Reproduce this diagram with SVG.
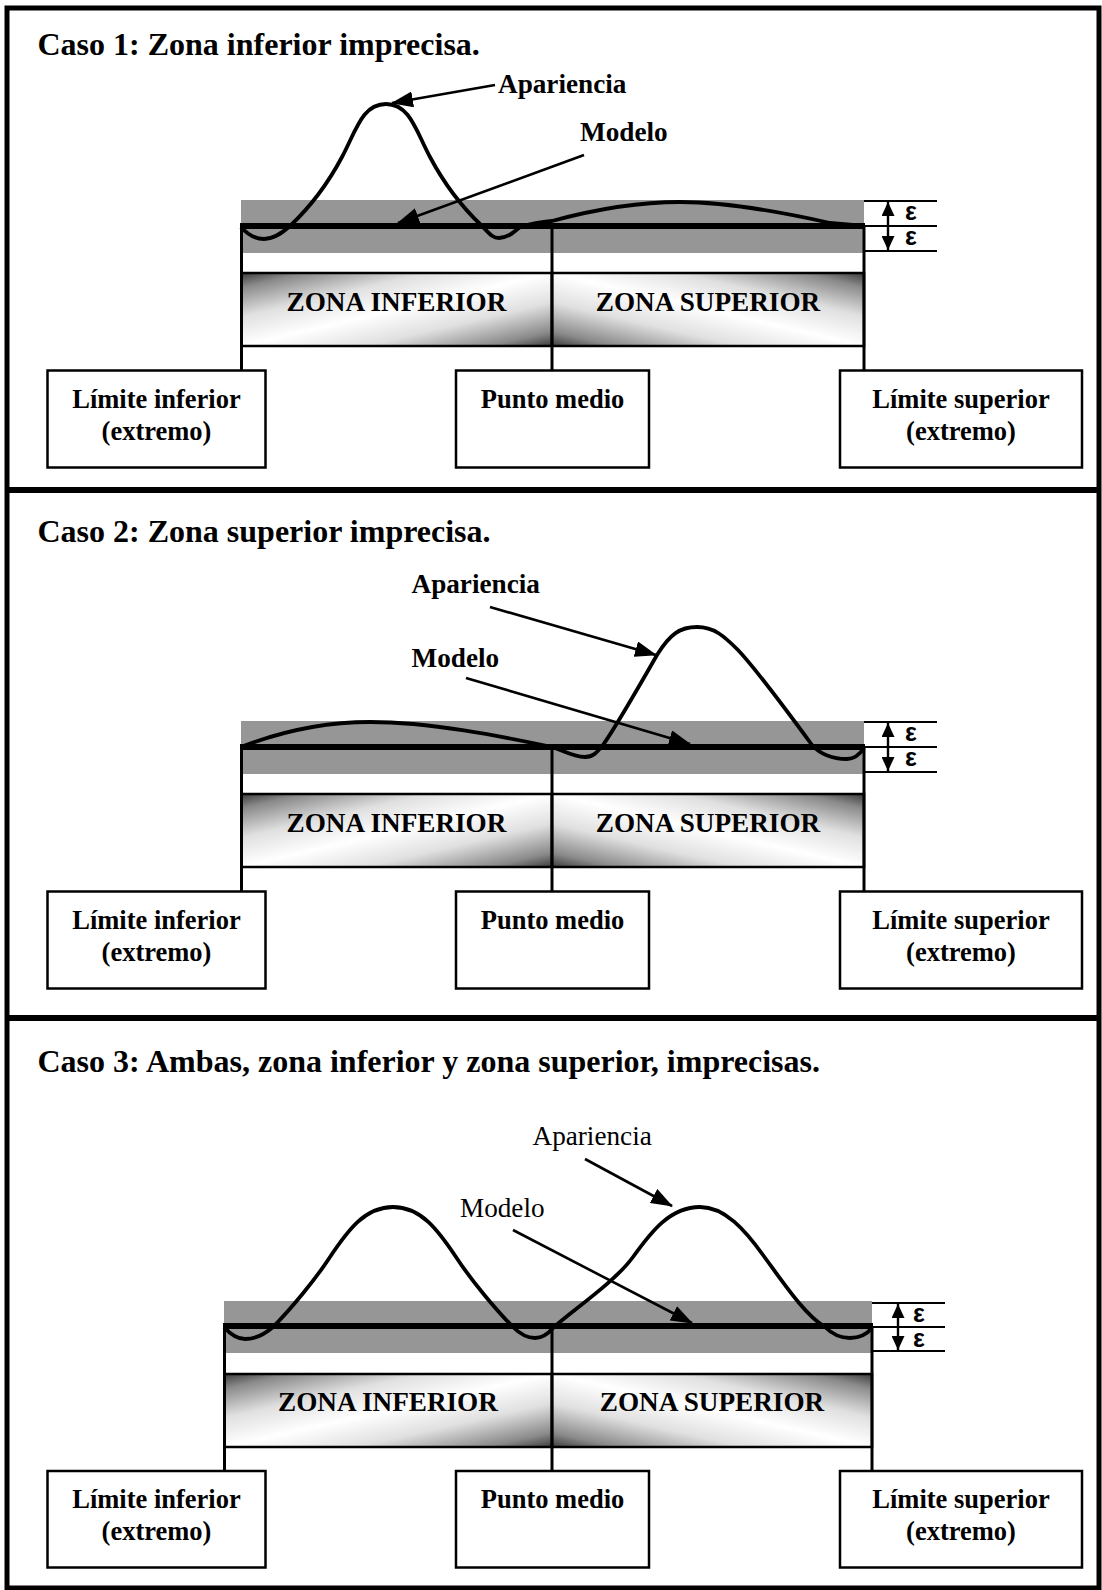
<svg xmlns="http://www.w3.org/2000/svg" width="1102" height="1590" viewBox="0 0 1102 1590">
  <defs>
    <style>
      .t { font-family: "Liberation Serif", "Times New Roman", serif; font-weight: bold; fill: #000; }
      .r { font-family: "Liberation Serif", "Times New Roman", serif; font-weight: normal; fill: #000; }
      .title { font-size: 32px; }
      .lbl { font-size: 26.5px; }
      .big { font-size: 27.2px; }
      .mid { text-anchor: middle; }
      .eps { font-family: "Liberation Sans", Arial, sans-serif; font-weight: bold; font-size: 25px; }
      .frame { fill: none; stroke: #000; stroke-width: 5; }
      .sep { stroke: #000; stroke-width: 6; }
      .band { fill: #969696; }
      .zone { stroke: #000; stroke-width: 2.5; }
      .box { fill: #fff; stroke: #000; stroke-width: 2.5; }
      .axis { stroke: #000; stroke-width: 6; }
      .edge { stroke: #000; stroke-width: 3; fill: none; }
      .curve { fill: none; stroke: #000; stroke-width: 3.8; stroke-linejoin: round; }
      .ptr { stroke: #000; stroke-width: 2.6; fill: none; marker-end: url(#head); }
      .tick { stroke: #000; stroke-width: 2; }
      .dim { stroke: #000; stroke-width: 2.4; marker-start: url(#small); marker-end: url(#small); }
    </style>
    <marker id="head" markerUnits="userSpaceOnUse" markerWidth="22" markerHeight="16" refX="21" refY="8" orient="auto">
      <path d="M0,0 L22,8 L0,16 Z" fill="#000"/>
    </marker>
    <marker id="small" markerUnits="userSpaceOnUse" markerWidth="14" markerHeight="13" refX="14" refY="6.5" orient="auto-start-reverse">
      <path d="M0,0 L14,6.5 L0,13 Z" fill="#000"/>
    </marker>
    <linearGradient id="shadeL" x1="0" y1="0" x2="1" y2="1">
      <stop offset="0" stop-color="#3c3c3c"/>
      <stop offset="0.1" stop-color="#8a8a8a"/>
      <stop offset="0.3" stop-color="#e0e0e0"/>
      <stop offset="0.5" stop-color="#ffffff"/>
      <stop offset="0.7" stop-color="#e0e0e0"/>
      <stop offset="0.9" stop-color="#8a8a8a"/>
      <stop offset="1" stop-color="#3c3c3c"/>
    </linearGradient>
    <linearGradient id="shadeR" x1="0" y1="1" x2="1" y2="0">
      <stop offset="0" stop-color="#3c3c3c"/>
      <stop offset="0.1" stop-color="#8a8a8a"/>
      <stop offset="0.3" stop-color="#e0e0e0"/>
      <stop offset="0.5" stop-color="#ffffff"/>
      <stop offset="0.7" stop-color="#e0e0e0"/>
      <stop offset="0.9" stop-color="#8a8a8a"/>
      <stop offset="1" stop-color="#3c3c3c"/>
    </linearGradient>
  </defs>

  <rect width="1102" height="1590" fill="#fff"/>

  <!-- outer frame and panel separators -->
  <g id="frame">
    <rect class="frame" x="7" y="8" width="1092" height="1580"/>
    <line class="sep" x1="7" y1="490" x2="1099" y2="490"/>
    <line class="sep" x1="7" y1="1018" x2="1099" y2="1018"/>
  </g>

  <!-- ===================== Caso 1 ===================== -->
  <g id="caso1">
    <text id="caso1-title" class="t title" x="37.5" y="55">Caso 1: Zona inferior imprecisa.</text>

    <g id="caso1-bands">
      <rect class="band" x="241" y="200" width="623" height="53"/>
      <line class="tick" x1="864" y1="201" x2="937" y2="201"/>
      <line class="tick" x1="864" y1="226" x2="937" y2="226"/>
      <line class="tick" x1="864" y1="251" x2="937" y2="251"/>
      <text class="eps" x="905" y="220">ε</text>
      <text class="eps" x="905" y="245">ε</text>
    </g>

    <g id="caso1-zona-inferior">
      <rect class="zone" x="241.5" y="273" width="310.5" height="73" fill="url(#shadeL)"/>
      <text class="t big mid" x="396.5" y="311">ZONA INFERIOR</text>
    </g>
    <g id="caso1-zona-superior">
      <rect class="zone" x="552" y="273" width="312" height="73" fill="url(#shadeR)"/>
      <text class="t big mid" x="708" y="311">ZONA SUPERIOR</text>
    </g>

    <g id="caso1-limite-inferior">
      <rect class="box" x="47.5" y="370.5" width="218" height="97"/>
      <text class="t lbl mid" x="156.5" y="408">Límite inferior</text>
      <text class="t lbl mid" x="156.5" y="440">(extremo)</text>
    </g>
    <g id="caso1-punto-medio">
      <rect class="box" x="456" y="370.5" width="193" height="97"/>
      <text class="t lbl mid" x="552.5" y="408">Punto medio</text>
    </g>
    <g id="caso1-limite-superior">
      <rect class="box" x="840" y="370.5" width="242" height="97"/>
      <text class="t lbl mid" x="961" y="408">Límite superior</text>
      <text class="t lbl mid" x="961" y="440">(extremo)</text>
    </g>

    <g id="caso1-connectors">
      <line class="edge" x1="241.5" y1="226" x2="241.5" y2="370.5"/>
      <line class="edge" x1="552" y1="226" x2="552" y2="370.5"/>
      <line class="edge" x1="864" y1="226" x2="864" y2="370.5"/>
      <line class="axis" x1="240" y1="226" x2="865" y2="226"/>
      <path class="curve" d="M241 227 C248 235 255 239 264 239 C274 239 282 233 290 226 C307 210 325 189 342 157 C356 131 362 104 386 104 C410 104 416 131 430 157 C447 189 465 210 482 226 C489 233 492 238 499 238 C507 238 513 233 520 227 C530 224 540 222 552 221 C600 208 640 202 680 202 C730 202 790 214 830 223 L864 226"/>
      <line class="ptr" x1="495" y1="85" x2="392" y2="103"/>
      <line class="ptr" x1="584" y1="155" x2="398" y2="223"/>
      <line class="dim" x1="888" y1="202" x2="888" y2="250"/>
    </g>
    <text class="t big" x="498" y="93">Apariencia</text>
    <text class="t big" x="580" y="141">Modelo</text>
  </g>

  <!-- ===================== Caso 2 ===================== -->
  <g id="caso2">
    <text id="caso2-title" class="t title" x="37.5" y="542">Caso 2: Zona superior imprecisa.</text>

    <g id="caso2-bands">
      <rect class="band" x="241" y="721" width="623" height="53"/>
      <line class="tick" x1="864" y1="722" x2="937" y2="722"/>
      <line class="tick" x1="864" y1="747" x2="937" y2="747"/>
      <line class="tick" x1="864" y1="772" x2="937" y2="772"/>
      <text class="eps" x="905" y="741">ε</text>
      <text class="eps" x="905" y="766">ε</text>
    </g>

    <g id="caso2-zona-inferior">
      <rect class="zone" x="241.5" y="794" width="310.5" height="73" fill="url(#shadeL)"/>
      <text class="t big mid" x="396.5" y="832">ZONA INFERIOR</text>
    </g>
    <g id="caso2-zona-superior">
      <rect class="zone" x="552" y="794" width="312" height="73" fill="url(#shadeR)"/>
      <text class="t big mid" x="708" y="832">ZONA SUPERIOR</text>
    </g>

    <g id="caso2-limite-inferior">
      <rect class="box" x="47.5" y="891.5" width="218" height="97"/>
      <text class="t lbl mid" x="156.5" y="929">Límite inferior</text>
      <text class="t lbl mid" x="156.5" y="961">(extremo)</text>
    </g>
    <g id="caso2-punto-medio">
      <rect class="box" x="456" y="891.5" width="193" height="97"/>
      <text class="t lbl mid" x="552.5" y="929">Punto medio</text>
    </g>
    <g id="caso2-limite-superior">
      <rect class="box" x="840" y="891.5" width="242" height="97"/>
      <text class="t lbl mid" x="961" y="929">Límite superior</text>
      <text class="t lbl mid" x="961" y="961">(extremo)</text>
    </g>

    <g id="caso2-connectors">
      <line class="edge" x1="241.5" y1="747" x2="241.5" y2="891.5"/>
      <line class="edge" x1="552" y1="747" x2="552" y2="891.5"/>
      <line class="edge" x1="864" y1="747" x2="864" y2="891.5"/>
      <line class="axis" x1="240" y1="747" x2="865" y2="747"/>
      <path class="curve" d="M241 747 C290 728 330 722 370 722 C430 722 500 736 552 747 C562 750 573 757 585 757 C594 757 598 751 603 745 C615 728 645 676 657 655 C670 634 680 627 697 627 C714 627 724 636 738 650 C755 668 790 715 812 745 C822 756 835 759 847 759 C855 759 860 754 864 748"/>
      <line class="ptr" x1="490" y1="607" x2="656" y2="655"/>
      <line class="ptr" x1="466" y1="678" x2="690" y2="744"/>
      <line class="dim" x1="888" y1="723" x2="888" y2="771"/>
    </g>
    <text class="t big" x="411.5" y="593">Apariencia</text>
    <text class="t big" x="411.5" y="667">Modelo</text>
  </g>

  <!-- ===================== Caso 3 ===================== -->
  <g id="caso3">
    <text id="caso3-title" class="t title" x="37.5" y="1072">Caso 3: Ambas, zona inferior y zona superior, imprecisas.</text>

    <g id="caso3-bands">
      <rect class="band" x="224" y="1301" width="648" height="52"/>
      <line class="tick" x1="872" y1="1303" x2="945" y2="1303"/>
      <line class="tick" x1="872" y1="1327" x2="945" y2="1327"/>
      <line class="tick" x1="872" y1="1351" x2="945" y2="1351"/>
      <text class="eps" x="913" y="1322">ε</text>
      <text class="eps" x="913" y="1347">ε</text>
    </g>

    <g id="caso3-zona-inferior">
      <rect class="zone" x="224.5" y="1374" width="327.5" height="73" fill="url(#shadeL)"/>
      <text class="t big mid" x="388" y="1411">ZONA INFERIOR</text>
    </g>
    <g id="caso3-zona-superior">
      <rect class="zone" x="552" y="1374" width="320" height="73" fill="url(#shadeR)"/>
      <text class="t big mid" x="712" y="1411">ZONA SUPERIOR</text>
    </g>

    <g id="caso3-limite-inferior">
      <rect class="box" x="47.5" y="1471" width="218" height="96.5"/>
      <text class="t lbl mid" x="156.5" y="1508">Límite inferior</text>
      <text class="t lbl mid" x="156.5" y="1540">(extremo)</text>
    </g>
    <g id="caso3-punto-medio">
      <rect class="box" x="456" y="1471" width="193" height="96.5"/>
      <text class="t lbl mid" x="552.5" y="1508">Punto medio</text>
    </g>
    <g id="caso3-limite-superior">
      <rect class="box" x="840" y="1471" width="242" height="96.5"/>
      <text class="t lbl mid" x="961" y="1508">Límite superior</text>
      <text class="t lbl mid" x="961" y="1540">(extremo)</text>
    </g>

    <g id="caso3-connectors">
      <line class="edge" x1="224.5" y1="1326" x2="224.5" y2="1471"/>
      <line class="edge" x1="552" y1="1326" x2="552" y2="1471"/>
      <line class="edge" x1="872" y1="1326" x2="872" y2="1471"/>
      <line class="axis" x1="223" y1="1326" x2="873" y2="1326"/>
      <path class="curve" d="M224 1327 C231 1335 237 1339 245 1339 C256 1339 265 1334 273 1327 C290 1310 315 1280 330 1257 C348 1230 365 1207 393 1207 C421 1207 438 1230 456 1257 C471 1280 496 1310 513 1327 C520 1334 527 1338 535 1338 C543 1338 548 1334 553 1328 C570 1312 615 1282 633 1257 C651 1232 670 1207 700 1207 C725 1207 745 1230 763 1255 C785 1285 805 1315 825 1327 C832 1334 840 1338 850 1338 C860 1338 867 1334 872 1328"/>
      <line class="ptr" x1="585" y1="1159" x2="672" y2="1206"/>
      <line class="ptr" x1="513" y1="1230" x2="692" y2="1323"/>
      <line class="dim" x1="898" y1="1304" x2="898" y2="1350"/>
    </g>
    <text class="r big" x="532.5" y="1145">Apariencia</text>
    <text class="r big" x="460" y="1217">Modelo</text>
  </g>
</svg>
